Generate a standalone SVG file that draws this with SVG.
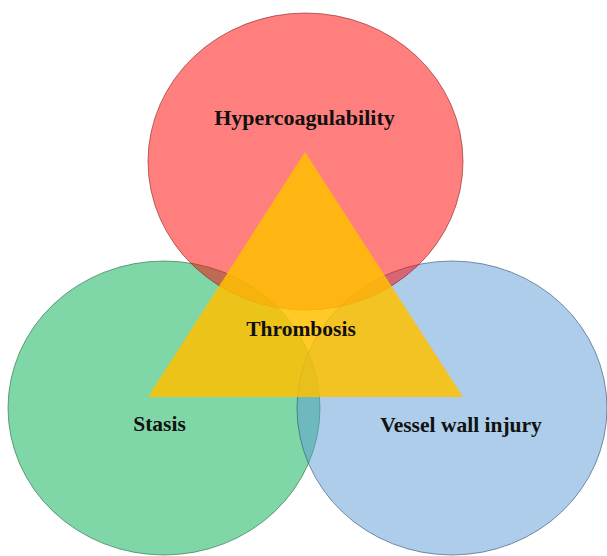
<svg xmlns="http://www.w3.org/2000/svg" width="607" height="556" viewBox="0 0 607 556">
<style>
.circ{fill-opacity:0.5;stroke-width:1;stroke-opacity:0.6}
.lbl{font-family:"Liberation Serif","Times New Roman",serif;font-weight:bold;font-size:21.5px;fill:#111;text-anchor:middle}
</style>
<rect width="607" height="556" fill="#ffffff"/>
<g id="stasis">
<ellipse class="circ" cx="164" cy="408" rx="156" ry="147" fill="#00b050" stroke="#1f6b40"/>
</g>
<g id="vessel-wall-injury">
<ellipse class="circ" cx="452" cy="408" rx="155" ry="147" fill="#5b9bd5" stroke="#2f4f72"/>
</g>
<g id="hypercoagulability">
<ellipse class="circ" cx="305.5" cy="161.5" rx="157.5" ry="148.5" fill="#ff0000" stroke="#8b1a1a"/>
</g>
<g id="thrombosis">
<polygon points="305,152 463,397 148,397" fill="#ffc000" fill-opacity="0.85"/>
</g>
<g id="labels">
<text class="lbl" x="304.5" y="125" style="font-size:22px">Hypercoagulability</text>
<text class="lbl" x="301" y="336">Thrombosis</text>
<text class="lbl" x="159.5" y="431">Stasis</text>
<text class="lbl" x="461" y="432">Vessel wall injury</text>
</g>
</svg>
